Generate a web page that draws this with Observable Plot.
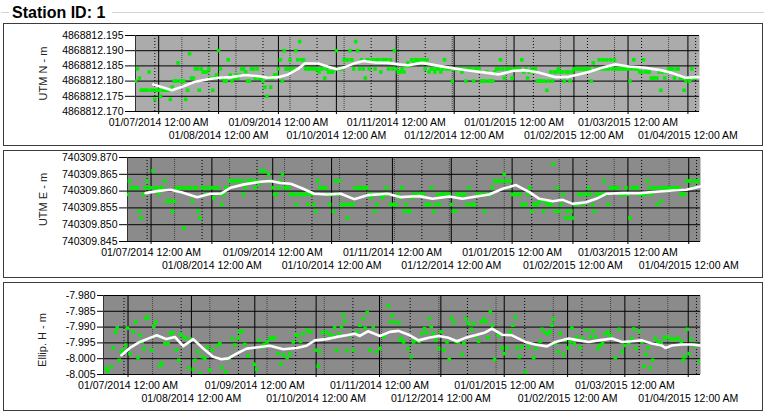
<!DOCTYPE html>
<html><head><meta charset="utf-8">
<script src="https://cdn.jsdelivr.net/npm/d3@7"></script>
<script src="https://cdn.jsdelivr.net/npm/@observablehq/plot@0.6"></script>
<style>
body{margin:0;background:#fff;font-family:"Liberation Sans",Arial,sans-serif;}
#wrap{position:relative;width:764px;height:414px;overflow:hidden;background:#fff;}
.title{position:absolute;left:12px;top:5px;line-height:16px;font:bold 16px/16px "Liberation Sans",Arial,sans-serif;color:#000;white-space:nowrap;}
.gline{position:absolute;height:0;border-top:1px solid #d4d4d4;}
.panel{position:absolute;left:3px;width:758px;border:1px solid #3c3c3c;background:#fff;overflow:hidden;}
.panel svg{position:absolute;left:0;top:0;}
</style></head>
<body><div id="wrap">
<div class="title">Station ID: 1</div>
<div class="gline" style="left:1px;top:12px;width:8px"></div>
<div class="gline" style="left:112px;top:12px;width:652px"></div>
<div class="panel" id="p1" style="top:23px;height:121px"></div>
<div class="panel" id="p2" style="top:150px;height:126px"></div>
<div class="panel" id="p3" style="top:282px;height:127px"></div>
</div>
<script>
// ---------- data ----------
const startDate = "2014-06-19";           // day 0 of the series
const endDate = "2015-04-07";
const monthTickLabels = ["2014-07-01","2014-08-01","2014-09-01","2014-10-01","2014-11-01","2014-12-01","2015-01-01","2015-02-01","2015-03-01","2015-04-01"];
const minorGridA = ["2014-06-29","2014-07-27","2014-08-24","2014-09-21","2014-10-19","2014-11-16","2014-12-14","2015-01-11","2015-02-08","2015-03-08","2015-04-05"];
const minorGridB = ["2014-07-13","2014-08-10","2014-09-07","2014-10-05","2014-11-02","2014-11-30","2014-12-28","2015-01-25","2015-02-22","2015-03-22"];

// UTM N (mm above base), one reading per day from startDate
const baseN = 4868812.170;
const ticksN = ["4868812.170","4868812.175","4868812.180","4868812.185","4868812.190","4868812.195"];
const mmN = [10,14,11,7,7,7,7,13,7,7, 4,7,7,5,7,7,7,7,4,8, 10,10,16,10,10,10,4,7,19,11, 11,14,14,7,14,13,13,13,14,11,
 7,11,12,20,14,11,10,10,17,12, 10,11,12,11,12,14,14,13,10,10, 14,14,11,14,11,11,10,8,5,11, 8,11,12,12,14,17,10,20,14,14,
 17,14,14,20,17,23,17,17,14,14, 14,14,14,14,14,13,14,14,11,14, 13,13,13,14,20,14,14,14,17,17, 17,20,17,14,23,20,14,17,14,11,
 17,14,17,17,14,17,17,13,17,17, 17,14,17,14,20,14,13,13,14,13, 15,16,15,17,16,17,17,16,17,17, 14,17,13,14,14,13,14,14,13,14,
 17,14,14,14,10,14,14,14,14,13, 14,10,14,14,14,10,14,14,14,10, 10,10,13,10,10,10,13,14,14,17, 14,11,14,14,14,11,14,14,14,14,
 17,13,14,11,13,14,13,14,10,10, 10,10,10,7,10,13,10,13,13,14, 13,13,10,13,13,10,13,14,14,14, 14,14,14,14,14,14,10,16,14,14,
 17,14,17,14,17,14,17,14,17,14, 14,14,14,14,14,14,10,14,17,14, 14,13,13,17,13,13,13,11,11,11, 11,13,7,13,11,13,14,14,14,11,
 14,14,11,11,7,10,11,10,14,11,11];
const avgN = [[9.3,8.9],[18.8,7.0],[24,8.1],[30.8,9.8],[37.7,10.6],[42.9,11.1],[49.8,11.3],[56.7,12],[63.6,11.6],[68.8,11.1],[73.9,11.3],[79.1,12.2],[84.3,14.1],[87.7,15.8],[94.6,15.8],[99.8,14.7],[104.1,13.9],[108.4,14.6],[113.6,15.9],[117.9,16.6],[123.9,16.1],[130.8,16],[136,15.5],[141.1,15.2],[148.4,16],[157,15],[165.6,14.1],[172.5,13.5],[181.1,12.8],[188,12.2],[195,13.3],[201.8,13.6],[208.7,12.8],[217.4,11.3],[224.2,11.4],[229.4,12.2],[234.6,13],[241.5,14.4],[248.4,15.5],[255.3,14.8],[263.9,14.4],[270.8,13.7],[277.7,12.7],[284.6,11.1],[291.5,11.3]];

// UTM E (mm above base), one reading per day
const baseE = 740309.845;
const ticksE = ["740309.845","740309.850","740309.855","740309.860","740309.865","740309.870"];
const mmE = [14,18,16,16,16,16,9,7,14,16, 18,16,16,21,16,16,14,16,16,18, 12,12,12,9,12,16,16,16,16,4, 16,16,16,12,16,16,9,7,16,16,
 14,16,16,16,13,16,16,14,11,14, 16,16,18,18,18,18,18,18,18,14, 16,18,18,18,18,16,18,17,21,21, 21,18,20,18,16,14,14,16,18,20,
 16,16,16,14,14,14,11,14,14,14, 14,14,11,14,14,11,9,18,16,16, 16,16,14,11,14,9,18,14,18,11, 11,11,7,11,11,11,16,16,16,16,
 16,16,16,14,13,14,9,11,14,14, 13,14,16,14,11,11,11,11,14,13, 16,9,11,9,9,13,14,14,14,14, 14,14,11,11,11,16,9,11,14,11,
 14,14,14,14,14,11,9,9,14,14, 14,14,14,11,16,11,11,11,14,14, 14,14,9,14,14,14,16,18,18,18, 18,18,20,18,16,18,14,14,14,14,
 14,11,11,11,14,16,9,11,11,11, 12,12,9,12,11,11,11,23,9,16, 9,11,14,7,9,7,9,7,11,11, 14,14,11,14,14,16,14,11,9,14,
 14,14,14,18,14,11,16,16,16,16, 16,14,14,14,16,14,7,16,16,16, 16,14,14,14,14,18,16,14,16,16, 11,16,12,16,16,16,16,16,16,16,
 16,16,14,14,14,18,18,18,16,18, 18,18];
const avgE = [[9.2,14.4],[15,15],[21.9,15.4],[27.9,14.6],[35.5,13.2],[42.3,14.2],[47.4,14.2],[52.5,16],[59.4,17],[67.9,17.8],[72.9,18],[78,17.4],[83.2,17.2],[88.3,16],[95.1,14.2],[101.9,14],[108.7,14.2],[115.5,12.6],[122.3,13.8],[132.5,14.2],[139.3,13.2],[144.4,13.4],[148.6,13.5],[155.4,12.7],[164,13.4],[170.7,12.7],[177.6,13.4],[184.3,14],[191.2,15.7],[198,16.8],[204.8,14.7],[209.9,12.7],[216.7,12],[221.8,12.4],[226.9,11.2],[233.7,11.7],[238.8,12.7],[243.9,14.2],[252.4,14.4],[260.9,14.4],[269.4,14.8],[277.9,15.2],[284.7,15.4],[292,16.4]];

// Ellip. H (mm above base), [day, mm]
const baseH = -8.005;
const ticksH = ["-8.005","-8.000","-7.995","-7.990","-7.985","-7.980"];
const ptsH = [[1.1,1.9],[2.3,1.1],[3.9,2.4],[4.7,8.4],[5.9,13.5],[6.7,14.8],[7.7,4.5],[8.8,7.1],[9.6,7.7],[10.9,9.3],[11.7,14.7],[12.9,6.6],[14.5,13.5],[15.8,16.6],[16.9,5.3],[17.8,12.4],[18.9,10.3],[19.9,8.2],[20.7,17.7],[21.8,18.2],[23.5,7.7],[24.6,15.2],[25.6,16.6],[27.6,2.7],[28.5,3.5],[30,9.8],[31.6,9.8],[32.8,12.9],[34,13.3],[35.7,7.7],[36.8,4.5],[37.7,12.7],[39,11.9],[40.3,11.4],[41.6,2.1],[42.6,11.2],[43.9,1.6],[44.8,4.5],[46,7.2],[47.1,0.3],[48.4,5.6],[49.6,5.1],[50.9,8.7],[52,1.4],[53.2,7.7],[55.6,9.2],[56.9,9.8],[57.7,2.2],[59.8,0.8],[61.5,5.1],[62.8,11.3],[64.2,9.3],[65.9,11.4],[66.7,13.5],[67.8,13.7],[69.1,9.5],[70.8,5.8],[73.7,3.2],[74.9,1.7],[76,10.8],[77.3,8.7],[78.6,9.5],[80,10.3],[81.4,11.4],[82.7,11.6],[83.8,11.4],[85.4,6.6],[86.8,3.2],[87.9,6.3],[89.8,5.3],[91.1,6.6],[92.8,10.3],[94.1,12.4],[95.2,12.4],[96.4,10.5],[97.7,12.9],[99.6,14],[101.3,13.5],[103.7,7.7],[105,2.6],[105.8,7.2],[107.1,13.2],[109.1,13.5],[110.7,12.6],[112.4,12.2],[113,14.8],[114,7.7],[115.3,12.9],[116.4,15],[117.2,18.9],[118,16.9],[118.9,7.5],[120.5,12.4],[122.1,7.7],[124.1,13.5],[125.4,15.6],[127,17.7],[128,14.7],[129,19.6],[130.3,7.7],[131.9,15],[133.6,7.2],[135.2,8.2],[137.1,11.9],[139.3,21.7],[140.4,16.6],[141.2,18.7],[142.5,16.6],[144.6,16.3],[145,10.8],[145.6,11.4],[146.8,10.3],[148.9,8.2],[150.5,5.6],[151.7,10.3],[152.8,10.8],[154.4,10.5],[155.7,12.9],[157,14.5],[158.2,13.2],[159.3,17.7],[160.3,15],[161.4,12.9],[162.6,10.8],[163.9,8.2],[165.2,13.5],[166.5,7.7],[168,10.3],[169.1,4.8],[170.1,17.9],[171.2,16.4],[172.4,10.5],[173.6,10.3],[175.3,6.3],[176.3,9.8],[177.3,17.5],[178.6,16.1],[179.9,14.3],[181,16.1],[182.2,12.1],[183.5,10.5],[184.8,16.6],[186.1,17.5],[187.1,16.8],[188.1,11.6],[189.2,19.8],[190.3,15.6],[191.3,4.8],[193,12.4],[194.9,8.4],[196.2,6.6],[197.4,8.4],[199,13.5],[200.2,15.6],[201.4,18.2],[202.2,8.3],[203.4,5.6],[204.7,8.7],[206.3,0.8],[207.9,8.7],[210.4,5.3],[211.5,8.2],[213.6,10.5],[214.4,14.3],[216.1,13.3],[217.2,12.9],[218.5,13.5],[219.4,15.6],[220.1,17.5],[220.9,9.8],[222.2,7.2],[223.4,12.9],[225,6.3],[225.8,10.8],[227.1,8.4],[228.3,10.3],[229.1,14.7],[230.2,9.8],[231.5,11.9],[233.2,8.4],[234.3,11.4],[236.4,14],[238.1,11.9],[239.4,13.7],[240.5,11.9],[241.7,8.2],[243,9.3],[244.1,9.8],[245.4,12.9],[246.7,13.3],[247.9,12.4],[250.3,5.3],[252.2,14.3],[253.6,7.2],[254.9,9.2],[256.9,9.8],[258.5,11.3],[259.3,14.4],[260.5,8.2],[262.1,13.7],[263.4,10.3],[264.4,2.7],[265.4,6.3],[266.3,8.4],[267.5,2.1],[268.6,4.5],[269.9,11.4],[271.2,10.3],[272.8,10.1],[274.4,11.6],[275.6,11.9],[277.2,11.2],[278.3,11.2],[279.6,11.2],[281.3,11.4],[282.6,10.3],[283.4,4.5],[284.2,5.6],[285.5,14.3],[286.4,6.6],[287.4,11.2],[288.6,9.3],[289.8,9.3],[291.5,4.2]];
const avgH = [[8.8,6.1],[12.9,8.4],[17.8,10.3],[22.7,11.6],[26,12.4],[30.8,11.2],[34.9,11.9],[39,9],[43.9,11.2],[48.8,8.2],[53.6,5.6],[57.7,4.8],[61,5.1],[65.1,6.6],[70,8.2],[76.5,8.7],[81.4,9.1],[87.9,8],[94.4,8.4],[99.3,9.1],[103.4,10.8],[109.1,11.2],[114,11.9],[118.9,12.4],[123,12.9],[125.4,12.2],[129.5,13.7],[135.2,12.2],[140.1,13.5],[144.3,13.8],[149.2,12.6],[154.1,10.8],[159,11.6],[163.9,12.2],[168.8,11.6],[172.9,10.5],[177,11.6],[181.8,12.4],[186.7,13.3],[190,14.5],[194.9,12.6],[199.8,12.4],[206.3,10.3],[211.2,9.5],[216.9,8.9],[221,10.3],[227.5,11.4],[232.4,10.8],[237.3,10.3],[242.2,10.8],[248.7,11.4],[253.6,10.3],[258.5,10.5],[263.4,10.8],[268.2,9.8],[273.1,9.2],[274.8,8.4],[278,9.2],[282.9,9.5],[287.8,9.5],[291.9,9.2]];

// ---------- drawing ----------
const DAY = 86400000;
const t0 = Date.parse(startDate + "T00:00:00Z");
const dayToDate = d => new Date(t0 + d * DAY);
const parse = s => new Date(s + "T00:00:00Z");
const xDomain = [parse(startDate), parse(endDate)];
const months = monthTickLabels.map(parse);
const oddMonths = months.filter((d, i) => i % 2 === 0);
const evenMonths = months.filter((d, i) => i % 2 === 1);
const fmt = d3.utcFormat("%d/%m/%Y %I:%M %p");
const font = "'Liberation Sans', Arial, sans-serif";

function drawPanel(o) {
  const yT = o.ticks.map(Number);
  const chart = Plot.plot({
    width: 758, height: o.height,
    marginLeft: o.ml, marginRight: o.mr, marginTop: o.mt, marginBottom: o.mb,
    style: {fontFamily: font, fontSize: "10.5px", background: "transparent", color: "#000"},
    x: {type: "utc", domain: xDomain, label: null},
    y: {domain: [yT[0], yT[yT.length - 1]], label: null},
    marks: [
      Plot.frame({fill: o.bg, stroke: null}),
      Plot.ruleX(minorGridB.map(parse), {stroke: "#444", strokeDasharray: "1,1"}),
      Plot.ruleX(minorGridA.map(parse), {stroke: "#000", strokeDasharray: "1,2"}),
      Plot.ruleY(yT, {stroke: "#000", strokeWidth: 1}),
      Plot.ruleX(months, {stroke: "#000", strokeWidth: 1}),
      Plot.ruleX([xDomain[0]], {stroke: "#333"}),
      Plot.dot(o.pts, {x: p => dayToDate(p[0]), y: p => o.base + p[1] / 1000, symbol: "square", r: 2, fill: "#00ee00", clip: true}),
      Plot.line(o.avg, {x: p => dayToDate(p[0]), y: p => o.base + p[1] / 1000, stroke: "#ffffff", strokeWidth: 2.6}),
      Plot.axisY({ticks: yT, tickFormat: d => d.toFixed(3), tickSize: o.ts, tickPadding: 2, fontSize: 10.5}),
      Plot.axisX({ticks: oddMonths, tickFormat: fmt, tickSize: 3, tickPadding: 4, fontSize: 10.5}),
      Plot.axisX({ticks: evenMonths, tickFormat: fmt, tickSize: 3, tickPadding: 17, fontSize: 10.5}),
      Plot.text([o.label], {text: d => d, frameAnchor: "left", textAnchor: "middle", lineAnchor: "middle", rotate: -90, dx: o.ldx, dy: o.ldy, fontSize: 11, fill: "#222"})
    ]
  });
  document.getElementById(o.id).appendChild(chart);
}

drawPanel({id: "p1", height: 121, ml: 131, mr: 63, mt: 11, mb: 34, bg: "#ababab", ticks: ticksN, base: baseN,
  pts: mmN.map((v, i) => [i, v]), avg: avgN, ts: 10, label: "UTM N - m", ldx: -92, ldy: 0});
drawPanel({id: "p2", height: 126, ml: 123, mr: 62, mt: 6, mb: 36, bg: "#8b8b8b", ticks: ticksE, base: baseE,
  pts: mmE.map((v, i) => [i, v]), avg: avgE, ts: 8, label: "UTM E - m", ldx: -84, ldy: 0});
drawPanel({id: "p3", height: 127, ml: 99, mr: 62, mt: 12, mb: 36, bg: "#8b8b8b", ticks: ticksH, base: baseH,
  pts: ptsH, avg: avgH, ts: 6, label: "Ellip. H - m", ldx: -61, ldy: 5});
</script>
</body></html>
